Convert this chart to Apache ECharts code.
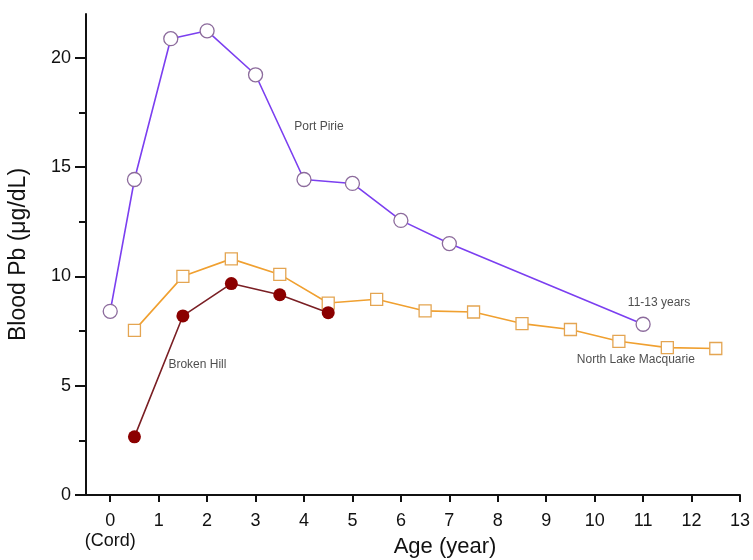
<!DOCTYPE html>
<html>
<head>
<meta charset="utf-8">
<script src="https://cdn.jsdelivr.net/npm/echarts@6/dist/echarts.min.js"></script>
<style>
  html, body { margin: 0; padding: 0; background: #fff; }
  #chart { width: 753px; height: 560px; }
</style>
</head>
<body>
<div id="chart"></div>
<script>
// ages (year) and blood Pb (ug/dL)
const piriAge = [0, 0.5, 1.25, 2, 3, 4, 5, 6, 7, 11];
const piriPb = [8.4, 14.43, 20.87, 21.23, 19.22, 14.43, 14.25, 12.56, 11.5, 7.81];

const lakeAge = [0.5, 1.5, 2.5, 3.5, 4.5, 5.5, 6.5, 7.5, 8.5, 9.5, 10.5, 11.5, 12.5];
const lakePb = [7.53, 10.0, 10.8, 10.09, 8.78, 8.95, 8.42, 8.37, 7.84, 7.57, 7.03, 6.74, 6.7];

const hillAge = [0.5, 1.5, 2.5, 3.5, 4.5];
const hillPb = [2.66, 8.19, 9.67, 9.16, 8.34];

const xTicks = [0, 1, 2, 3, 4, 5, 6, 7, 8, 9, 10, 11, 12, 13];
const yTicks = [0, 5, 10, 15, 20];
const yMinorTicks = [2.5, 7.5, 12.5, 17.5];

const noteText = ['Port Pirie', 'Broken Hill', '11-13 years', 'North Lake Macquarie'];
const noteX = [4.31, 1.8, 11.33, 10.85];
const noteY = [16.85, 5.98, 8.81, 6.21];

const font = 'Liberation Sans, Arial, sans-serif';

function pairs(xs, ys) {
  return xs.map((x, i) => [x, ys[i]]);
}

const chart = echarts.init(document.getElementById('chart'), null, { renderer: 'canvas' });

chart.setOption({
  animation: false,
  backgroundColor: '#fff',
  grid: { left: 86, right: 13, top: 14, bottom: 65, outerBoundsMode: 'none', containLabel: false },
  xAxis: {
    type: 'value',
    min: -0.5,
    max: 13,
    name: 'Age (year)',
    nameLocation: 'middle',
    nameGap: 41,
    nameMoveOverlap: false,
    nameTextStyle: { fontFamily: font, fontSize: 22, color: '#111', padding: [0, 0, 0, 64] },
    axisLine: { onZero: false, lineStyle: { color: '#111', width: 2 } },
    axisTick: { customValues: xTicks, length: 7, lineStyle: { color: '#111', width: 2 } },
    axisLabel: {
      customValues: xTicks,
      fontFamily: font,
      fontSize: 18,
      color: '#111',
      margin: 16,
      lineHeight: 20,
      formatter: v => (v === 0 ? '0\n(Cord)' : String(v))
    },
    splitLine: { show: false }
  },
  yAxis: [
    {
      type: 'value',
      min: 0,
      max: 22,
      name: 'Blood Pb (μg/dL)',
      nameLocation: 'middle',
      nameGap: 56,
      nameMoveOverlap: false,
      nameTextStyle: { fontFamily: font, fontSize: 23, color: '#111' },
      axisLine: { show: true, onZero: false, lineStyle: { color: '#111', width: 2 } },
      axisTick: { customValues: yTicks, length: 11, lineStyle: { color: '#111', width: 2 } },
      axisLabel: { customValues: yTicks, fontFamily: font, fontSize: 18, color: '#111', margin: 15 },
      splitLine: { show: false }
    },
    {
      type: 'value',
      min: 0,
      max: 22,
      position: 'left',
      axisLine: { show: false, onZero: false },
      axisTick: { show: true, customValues: yMinorTicks, length: 7, lineStyle: { color: '#111', width: 2 } },
      axisLabel: { show: false },
      splitLine: { show: false }
    }
  ],
  series: [
    {
      name: 'Port Pirie',
      type: 'line',
      data: pairs(piriAge, piriPb),
      symbol: 'circle',
      symbolSize: 14,
      lineStyle: { color: '#7b3ff0', width: 1.6 },
      itemStyle: { color: '#fff', borderColor: '#8c6b9c', borderWidth: 1.3 },
      z: 3
    },
    {
      name: 'North Lake Macquarie',
      type: 'line',
      data: pairs(lakeAge, lakePb),
      symbol: 'rect',
      symbolSize: 12,
      lineStyle: { color: '#f0a030', width: 1.6 },
      itemStyle: { color: '#fff', borderColor: '#e4a552', borderWidth: 1.3 },
      z: 3
    },
    {
      name: 'Broken Hill',
      type: 'line',
      data: pairs(hillAge, hillPb),
      symbol: 'circle',
      symbolSize: 13,
      lineStyle: { color: '#7a1f24', width: 1.6 },
      itemStyle: { color: '#8b0000', borderColor: '#8b0000', borderWidth: 0 },
      z: 4
    },
    {
      name: 'notes',
      type: 'scatter',
      symbolSize: 0,
      silent: true,
      data: noteText.map((t, i) => ({ value: [noteX[i], noteY[i]], name: t })),
      label: {
        show: true,
        position: 'inside',
        formatter: p => p.name,
        fontFamily: font,
        fontSize: 12,
        color: '#222'
      },
      z: 5
    }
  ]
});
</script>
</body>
</html>
